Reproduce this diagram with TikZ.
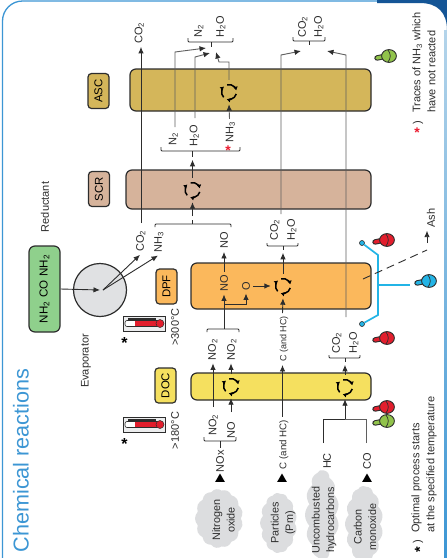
\documentclass[tikz,border=0pt]{standalone}
\usepackage{fontspec}
\setmainfont{Liberation Sans}
\usetikzlibrary{arrows.meta, shapes.geometric, shapes.symbols}
\definecolor{frameblue}{RGB}{60, 150, 212}
\definecolor{framedark}{RGB}{20, 85, 150}
\definecolor{framepale}{RGB}{180, 212, 234}
\definecolor{darkline}{RGB}{45, 45, 45}
\definecolor{flowgray}{RGB}{95, 95, 95}
\definecolor{ascfill}{RGB}{212, 182, 90}
\definecolor{scrfill}{RGB}{214, 179, 155}
\definecolor{dpffill}{RGB}{251, 184, 92}
\definecolor{docfill}{RGB}{245, 224, 95}
\definecolor{ureafill}{RGB}{143, 208, 140}
\definecolor{evapfill}{RGB}{224, 225, 227}
\definecolor{cloudgray}{RGB}{220, 221, 223}
\definecolor{probered}{RGB}{226, 30, 45}
\definecolor{probegreen}{RGB}{145, 195, 75}
\definecolor{probeblue}{RGB}{35, 180, 230}
\definecolor{starred}{RGB}{235, 30, 50}
\tikzset{
    bandbox/.style={draw=darkline, line width=1.2pt, rounded corners=6pt, inner sep=0pt},
    tagbox/.style={draw=darkline, line width=1.2pt, rounded corners=3.5pt, rotate=90, inner sep=0pt,
        minimum width=35pt, minimum height=21pt, font=\fontsize{11.4}{13}\selectfont},
    chem/.style={rotate=90, inner sep=3pt, text height=7.6pt, text depth=0pt,
        font=\fontsize{11}{13}\selectfont, text=darkline},
    note/.style={rotate=90, inner sep=0pt, align=left, font=\fontsize{11}{15}\selectfont, text=darkline},
    blob/.style={cloud, cloud puffs=13, cloud puff arc=90, cloud ignores aspect, rotate=90,
        fill=cloudgray, draw=none, inner sep=0pt},
    blobtext/.style={rotate=90, inner sep=0pt, align=center, font=\fontsize{10.8}{14.5}\selectfont, text=darkline},
    tiphead/.style={regular polygon, regular polygon sides=3, fill=black, inner sep=0pt, minimum size=11pt},
    flow/.style={draw=darkline, line width=.9pt, -{Latex[length=6.5pt,width=5.5pt]}},
    thinflow/.style={draw=flowgray, line width=.9pt, -{Latex[length=6.5pt,width=5.5pt,color=darkline]}},
    plainline/.style={draw=darkline, line width=.9pt},
    capline/.style={draw=darkline, line width=.9pt, rounded corners=1pt},
    sensor/.style={draw=probeblue, line width=1.7pt},
    sensordot/.style={circle, fill=probeblue, draw=darkline, line width=.6pt, inner sep=0pt, minimum size=5pt},
    reactor/.style={circle, inner sep=0pt, minimum size=24pt, path picture={
        \foreach \a in {105, -15, 225}{
            \draw[black, line width=1.5pt, -{Latex[length=3.6pt,width=4.8pt]}]
                (path picture bounding box.center) ++(\a:7.5pt) arc[start angle=\a, end angle=\a-92, radius=7.5pt];
        }}},
    pics/probe/.style={code={
        \draw[darkline, line width=5.4pt, line cap=round] (-12,2) -- (-5,.5);
        \draw[#1, line width=3.4pt, line cap=round] (-12,2) -- (-5,.5);
        \draw[darkline, fill=#1, line width=.9pt] (0,0) ellipse (7.4pt and 6.4pt);
        \draw[darkline, line width=.7pt] (-1,-6) .. controls (2,-2) and (2,2) .. (-1,6);
    }},
    pics/thermo/.style={code={
        \draw[darkline, line width=.9pt, fill=evapfill!60] (0,0) rectangle (42,15);
        \fill[darkline] (5,2) rectangle (33,4);
        \draw[darkline, line width=.6pt, fill=white, rounded corners=2pt] (2,4.5) rectangle (36,10.5);
        \fill[probered] (12,5) rectangle (36,10);
        \draw[darkline, line width=.5pt, fill=probered] (37,7.5) circle (4pt);
    }}
}
\newcommand{\capped}[4]{\draw[capline] (#1,#4) -- (#1,#3) -- (#2,#3) -- (#2,#4);}

\begin{document}
\begin{tikzpicture}[x=1pt, y=-1pt]
    \useasboundingbox (0,0) rectangle (447,558);
    \fill[white] (0,0) rectangle (447,558);

    % Frame and title
    \draw[frameblue, line width=1.3pt, rounded corners=20pt] (2.5,575) -- (2.5,1) -- (395,1);
    \fill[framedark] (377,0) -| (447,30) .. controls (447,13) and (438,3) .. (420,3) -- (377,3) -- cycle;
    \fill[top color=framepale, bottom color=frameblue] (444,30) rectangle (447,558);
    \node[rotate=90, inner sep=0pt, font=\fontsize{21.6}{26}\selectfont, text=frameblue] (title) at (21,460.5) {Chemical reactions};

    % Bands
    \node[bandbox, fill=ascfill, minimum width=241pt, minimum height=42pt] (ascband) at (250.5,90) {};
    \node[bandbox, fill=scrfill, minimum width=245pt, minimum height=39pt] (scrband) at (248.5,189.5) {};
    \node[bandbox, fill=dpffill, minimum width=180pt, minimum height=46pt] (dpfband) at (281,286) {};
    \node[bandbox, fill=docfill, minimum width=180pt, minimum height=27pt] (docband) at (281,386.5) {};

    % Tags
    \node[tagbox, fill=ascfill] (asctag) at (98.5,91) {ASC};
    \node[tagbox, fill=scrfill] (scrtag) at (99,189) {SCR};
    \node[tagbox, fill=dpffill] (dpftag) at (166.5,286.5) {DPF};
    \node[tagbox, fill=docfill] (doctag) at (165.5,385.5) {DOC};

    % Reactors
    \node[reactor] (ascR) at (229,92) {};
    \node[reactor] (scrR) at (192.5,190) {};
    \node[reactor] (dpfR) at (283,286) {};
    \node[reactor] (docL) at (231,386) {};
    \node[reactor] (docR) at (345,387) {};

    % Urea and evaporator
    \node[draw=darkline, line width=1.2pt, fill=ureafill, rounded corners=6pt, rotate=90, inner sep=0pt,
        minimum width=86pt, minimum height=31pt, font=\fontsize{11.6}{13}\selectfont] (urea) at (44.5,289) {NH\textsubscript{2}\,\,CO\,\,NH\textsubscript{2}};
    \node[circle, draw=darkline, line width=1.2pt, fill=evapfill, inner sep=0pt, minimum size=53pt] (evap) at (100,290) {};
    \node[note] (reductant) at (45,207) {Reductant};
    \node[note] (evaporator) at (86,361) {Evaporator};
    \coordinate (evapOut) at (103,290);
    \node[chem] (co2evap) at (140,241) {CO\textsubscript{2}};
    \node[chem] (nh3evap) at (158,242) {NH\textsubscript{3}};
    \draw[flow] (urea.south) -- (evap.center);
    \draw[flow] (evapOut) -- (co2evap.west);
    \draw[flow] (evapOut) -- (nh3evap.west);

    % Thermometers
    \pic at (123,316) {thermo};
    \pic at (123,417) {thermo};
    \node[inner sep=0pt, font=\bfseries\fontsize{16}{16}\selectfont] (starA) at (124.5,343) {*};
    \node[inner sep=0pt, font=\bfseries\fontsize{16}{16}\selectfont] (starB) at (124.5,444) {*};
    \node[chem] (tempA) at (175,327) {>300°C};
    \node[chem] (tempB) at (175,430.5) {>180°C};

    % ASC column
    \node[chem] (co2top) at (138.5,33) {CO\textsubscript{2}};
    \coordinate (co2foot) at (141,223);
    \draw[flow] (co2foot) -- (co2foot |- co2top.west);

    \node[chem] (n2top) at (198,31) {N\textsubscript{2}};
    \node[chem] (h2otop) at (220,27) {H\textsubscript{2}O};
    \capped{188}{233}{42}{38}
    \coordinate (ascStem) at (211,42);
    \draw[plainline] (ascStem) -- ++(0,5);

    \node[chem] (n2mid) at (172.5,139) {N\textsubscript{2}};
    \node[chem] (h2omid) at (193.5,136) {H\textsubscript{2}O};
    \node[chem] (nh3mid) at (229.5,132.5) {NH\textsubscript{3}};
    \node[inner sep=0pt, text=starred, font=\bfseries\fontsize{14}{14}\selectfont] (starC) at (228,151) {*};
    \capped{161}{240}{151}{147}

    \coordinate (n2Foot) at (175,127);
    \coordinate (n2Bend) at (175,52);
    \coordinate (n2Tip) at (206,48);
    \coordinate (h2oFoot) at (195,118);
    \coordinate (h2oBend) at (195,57);
    \coordinate (h2oTip) at (210,53);
    \coordinate (nh3Bend) at (229,62);
    \coordinate (nh3Knee) at (219,62);
    \coordinate (nh3Tip) at (216,52);
    \draw[thinflow] (n2Foot) -- (n2Bend) -- (n2Tip);
    \draw[thinflow] (h2oFoot) -- (h2oBend) -- (h2oTip);
    \draw[thinflow] (nh3mid.east) -- (ascR.south);
    \draw[thinflow] (ascR.north) -- (nh3Bend) -- (nh3Knee) -- (nh3Tip);

    % SCR column
    \coordinate (scrStem) at (192.5,151);
    \draw[plainline] (scrStem) -- ++(0,6);
    \draw[flow] (scrR.north) -- ++(0,-18);
    \capped{155}{231}{224}{227}
    \coordinate (scrIn) at (192.5,224);
    \coordinate (scrArrow) at (192.5,216);
    \draw[plainline] (scrIn) -- ++(0,-4);
    \draw[flow] (scrArrow) -- (scrR.south);

    % CO2 and H2O leaving at the top
    \node[chem] (co2right) at (302,27) {CO\textsubscript{2}};
    \node[chem] (h2oright) at (318,27) {H\textsubscript{2}O};
    \capped{293}{325}{41}{37}
    \coordinate (rightStem) at (309,41);
    \draw[plainline] (rightStem) -- ++(0,4);
    \coordinate (exitFootA) at (281,214);
    \coordinate (exitBendA) at (281,55);
    \coordinate (exitTipA) at (301,51);
    \coordinate (exitFootB) at (346,317);
    \coordinate (exitBendB) at (346,55);
    \coordinate (exitTipB) at (327,51);
    \draw[thinflow] (exitFootA) -- (exitBendA) -- (exitTipA);
    \draw[thinflow] (exitFootB) -- (exitBendB) -- (exitTipB);

    % DPF
    \node[chem] (notop) at (224,240.5) {NO};
    \node[chem] (nodpf) at (224,283) {NO};
    \node[chem] (odpf) at (246,286) {O};
    \coordinate (noFoot) at (224,329);
    \coordinate (oFork) at (224,304);
    \draw[flow] (nodpf.east) -- (notop.west);
    \draw[flow] (noFoot) -- (nodpf.west);
    \draw[flow] (oFork) -| (odpf.west);
    \draw[flow] (odpf.south) -- (dpfR.west);

    \node[chem] (co2dpf) at (274,230) {CO\textsubscript{2}};
    \node[chem] (h2odpf) at (291,230) {H\textsubscript{2}O};
    \capped{267}{298}{246}{243}
    \coordinate (dpfStem) at (283,246);
    \draw[plainline] (dpfStem) -- ++(0,4);
    \draw[flow] (dpfR.north) -- ++(0,-21);

    \node[chem, font=\fontsize{9}{11}\selectfont] (carbonB) at (282.5,339) {C (and HC)};
    \node[chem, font=\fontsize{9.7}{11}\selectfont] (carbonA) at (282.5,444.5) {C (and HC)};
    \draw[flow] (carbonB.east) -- (dpfR.south);
    \draw[flow] (carbonA.east) -- (carbonB.west);

    % DOC
    \node[chem] (no2a) at (212,349.5) {NO\textsubscript{2}};
    \node[chem] (no2b) at (231,349.5) {NO\textsubscript{2}};
    \capped{207}{239}{329}{332}
    \coordinate (no2Foot) at (213,407);
    \draw[flow] (no2Foot) -- (no2Foot |- no2a.west);
    \draw[flow] (docL.north) -- (no2b.west);

    \node[chem] (no2c) at (212.5,425) {NO\textsubscript{2}};
    \node[chem] (noc) at (231,430) {NO};
    \capped{204}{236}{441}{437}
    \coordinate (noxStem) at (220,441);
    \draw[plainline] (noxStem) -- ++(0,7);
    \coordinate (noIn) at (231,412);
    \draw[flow] (noIn) -- (docL.south);

    \node[chem] (co2doc) at (336,343) {CO\textsubscript{2}};
    \node[chem] (h2odoc) at (353,343) {H\textsubscript{2}O};
    \capped{329}{360}{358}{355}
    \coordinate (docStem) at (345,358);
    \draw[plainline] (docStem) -- ++(0,4);
    \draw[flow] (docR.north) -- ++(0,-10);

    \coordinate (hcFoot) at (323,443);
    \coordinate (coFoot) at (366,443);
    \coordinate (docFork) at (345,419);
    \draw[plainline] (hcFoot) |- (docFork);
    \draw[thinflow, -] (coFoot) |- (docFork);
    \draw[flow] (docFork) -- (docR.south);

    % Sources
    \node[chem] (nox) at (220,461) {NOx};
    \node[chem] (hc) at (327,461) {HC};
    \node[chem] (co) at (367,461) {CO};
    \node[tiphead] (tipNox) at (220,479) {};
    \node[tiphead] (tipC) at (282,479) {};
    \node[tiphead] (tipHc) at (324,479) {};
    \node[tiphead] (tipCo) at (367,479) {};

    \node[blob, minimum width=59pt, minimum height=48pt] (nitroCloud) at (219,518.5) {};
    \node[blob, minimum width=60pt, minimum height=37pt] (partCloud) at (278.5,523) {};
    \node[blob, minimum width=90pt, minimum height=34pt] (hcCloud) at (322,515) {};
    \node[blob, minimum width=76pt, minimum height=38pt] (coCloud) at (364,524) {};
    \node[blobtext] (nitroText) at (223.5,520) {Nitrogen\\oxide};
    \node[blobtext] (partText) at (283,523) {Particles\\(Pm)};
    \node[blobtext] (hcText) at (324,520) {Uncombusted\\hydrocarbons};
    \node[blobtext] (coText) at (365,527) {Carbon\\monoxide};

    % Sensors
    \node[sensordot] (dotTop) at (362,243) {};
    \node[sensordot] (dotBottom) at (362,324) {};
    \coordinate (sensorKneeA) at (378,255);
    \coordinate (sensorKneeB) at (378,315);
    \coordinate (sensorFork) at (378,285);
    \coordinate (sensorEnd) at (410,285);
    \draw[sensor] (dotTop) -- (sensorKneeA) -- (sensorKneeB) -- (dotBottom);
    \draw[sensor] (sensorFork) -- (sensorEnd);
    \pic at (389,56) {probe=probegreen};
    \pic at (387,240) {probe=probered};
    \pic at (429,281) {probe=probeblue};
    \pic at (387,338) {probe=probered};
    \pic at (387,407) {probe=probered};
    \pic at (387,421) {probe=probegreen};

    % Ash
    \node[chem] (ash) at (431,218) {Ash};
    \coordinate (ashStart) at (363,279);
    \coordinate (ashKnee) at (427,250);
    \coordinate (ashArrow) at (427,243);
    \draw[plainline, dash pattern=on 8pt off 5pt] (ashStart) -- (ashKnee);
    \draw[flow] (ashArrow) -- (ashKnee |- ash.west);

    % Footnotes
    \node[note, anchor=west] (noteNh3) at (424,113) {Traces of NH\textsubscript{3} which\\have not reacted};
    \node[inner sep=0pt, text=starred, font=\bfseries\fontsize{14}{14}\selectfont] (starD) at (417,133) {*};
    \node[chem, inner sep=0pt] (parenD) at (417,123) {)};
    \node[note, anchor=west] (noteTemp) at (424,533) {Optimal process starts\\at the specified temperature};
    \node[rotate=90, inner sep=0pt, font=\bfseries\fontsize{14.5}{14.5}\selectfont] (starE) at (420,550) {*};
    \node[chem, inner sep=0pt] (parenE) at (417,542) {)};
\end{tikzpicture}
\end{document}
